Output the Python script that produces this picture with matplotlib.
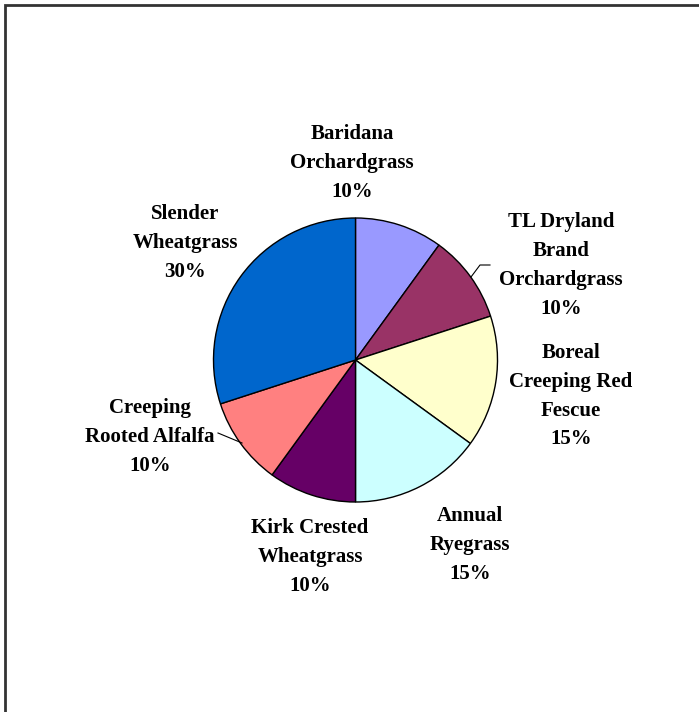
import matplotlib
matplotlib.use("Agg")
import matplotlib.pyplot as plt
from matplotlib.patches import Rectangle

categories = ["Baridana\nOrchardgrass", "TL Dryland\nBrand\nOrchardgrass",
              "Boreal\nCreeping Red\nFescue", "Annual\nRyegrass",
              "Kirk Crested\nWheatgrass", "Creeping\nRooted Alfalfa",
              "Slender\nWheatgrass"]
values = [10, 10, 15, 15, 10, 10, 30]
colors = ["#9999FF", "#993366", "#FFFFCC", "#CCFFFF", "#660066", "#FF8080", "#0066CC"]
# label centre positions (pixels from top-left)
label_pos = [(352, 163), (561, 265), (571, 396), (470, 545), (310, 557), (150, 437), (185, 243)]

W, H = 699, 712
fig = plt.figure(figsize=(W / 100, H / 100), dpi=100)
ax = fig.add_axes([0, 0, 1, 1])
cx, cy, r = 355.5, 360, 142
ax.pie(values, colors=colors, startangle=90, counterclock=False,
       center=(cx, H - cy), radius=r,
       wedgeprops=dict(edgecolor="black", linewidth=1.0))
ax.set_xlim(0, W)
ax.set_ylim(0, H)
ax.set_aspect("equal")
ax.axis("off")

font = dict(family="Liberation Serif", weight="bold", size=15)
for cat, v, (x, y) in zip(categories, values, label_pos):
    ax.text(x, H - y, f"{cat}\n{v}%", ha="center", va="center",
            linespacing=1.6, color="black", **font)

# leader lines
ax.plot([471, 480, 490], [H - 277, H - 265, H - 265], color="black", lw=0.8)
ax.plot([218, 242], [H - 433, H - 443], color="black", lw=0.8)

fig.patches.append(Rectangle((5, -10), W + 20, H - 5 + 10, transform=None,
                             fill=False, edgecolor="#333333", linewidth=2.0))
fig.savefig("out.png", dpi=100)
